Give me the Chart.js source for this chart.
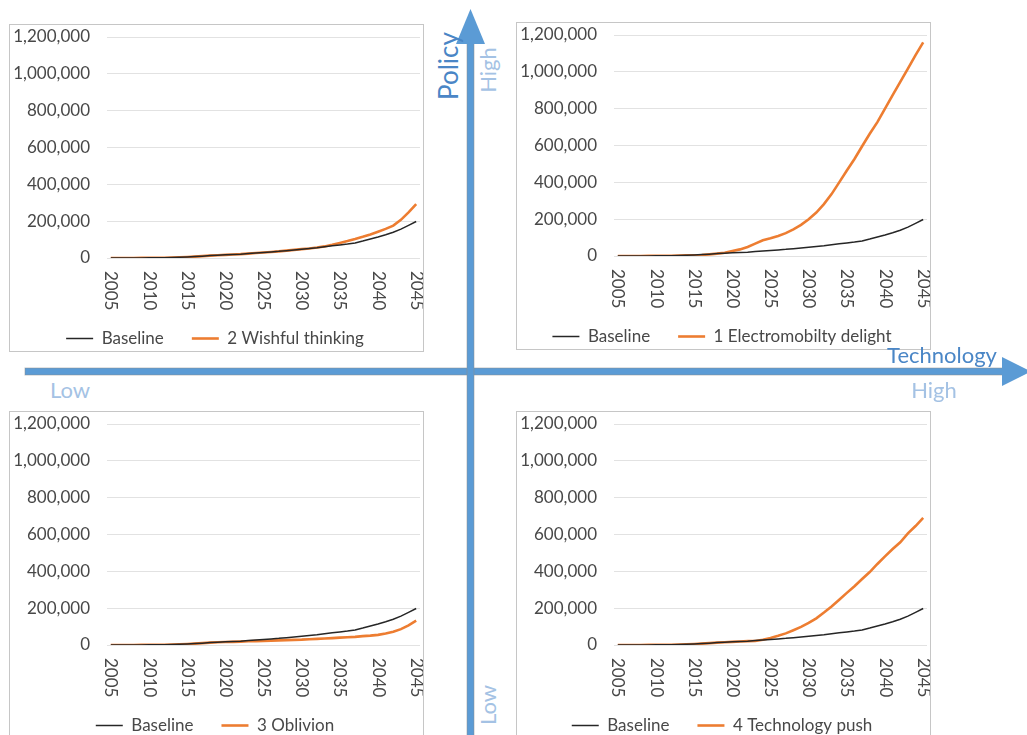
<!DOCTYPE html>
<html>
<head>
<meta charset="utf-8">
<script src="https://cdn.jsdelivr.net/npm/chart.js@4.4.0/dist/chart.umd.min.js"></script>
<style>
    body { margin: 0; width: 1027px; height: 735px; overflow: hidden; background: #fff; position: relative; font-family: Lato, sans-serif; }
    .box { position: absolute; width: 413px; height: 326px; border: 1px solid #c6c6c6; background: #fff; overflow: hidden; }
    .box .inner { position: relative; width: 413px; height: 332px; }
    .lbl { position: absolute; font-size: 22px; line-height: 1; white-space: nowrap; transform: translate(-50%, -50%); z-index: 2; }
    .dark { color: #4a86c6; }
    .light { color: #a4c2e4; }
    .rot { transform: translate(-50%, -50%) rotate(-90deg); }
    svg { position: absolute; left: 0; top: 0; }
</style>
</head>
<body>

<svg width="1027" height="735">
    <!-- horizontal axis: technology -->
    <rect x="25" y="368" width="980" height="7" fill="#5b9bd5" stroke="rgba(140,140,140,0.5)" stroke-width="1"/>
    <polygon points="1002,357 1031,371.5 1002,386" fill="#5b9bd5"/>
    <!-- vertical axis: policy -->
    <rect x="467" y="40" width="7" height="700" fill="#5b9bd5" stroke="rgba(140,140,140,0.5)" stroke-width="1"/>
    <polygon points="456,44 470.5,9 485,44" fill="#5b9bd5"/>
</svg>

<div class="box" style="left:9px; top:24px;"><div class="inner"><canvas id="chart2"></canvas></div></div>
<div class="box" style="left:516px; top:22px;"><div class="inner"><canvas id="chart1"></canvas></div></div>
<div class="box" style="left:9px; top:411px;"><div class="inner"><canvas id="chart3"></canvas></div></div>
<div class="box" style="left:516px; top:411px;"><div class="inner"><canvas id="chart4"></canvas></div></div>

<div class="lbl dark rot" style="left:448px; top:66px; font-size:26px;">Policy</div>
<div class="lbl light rot" style="left:488px; top:70px;">High</div>
<div class="lbl light rot" style="left:488px; top:705px;">Low</div>
<div class="lbl dark" style="left:942px; top:355px;">Technology</div>
<div class="lbl light" style="left:934px; top:390px;">High</div>
<div class="lbl light" style="left:70px; top:390px;">Low</div>

<script>
// years on the x axis, and the ones that get a label
const years = [2005, 2006, 2007, 2008, 2009, 2010, 2011, 2012, 2013, 2014,
    2015, 2016, 2017, 2018, 2019, 2020, 2021, 2022, 2023, 2024,
    2025, 2026, 2027, 2028, 2029, 2030, 2031, 2032, 2033, 2034,
    2035, 2036, 2037, 2038, 2039, 2040, 2041, 2042, 2043, 2044, 2045];
const tickYears = [2005, 2010, 2015, 2020, 2025, 2030, 2035, 2040, 2045];

// vehicles
const baseline = [100, 200, 300, 400, 500, 700, 1000, 1500, 2500, 4000,
    5500, 7500, 10000, 13000, 15000, 17000, 19000, 21000, 24000, 27000,
    30000, 33000, 36000, 40000, 44000, 48000, 52000, 56000, 61000, 66000,
    71000, 76000, 82000, 92000, 103000, 114000, 126000, 140000, 157000, 177000,
    198000];
const electromobility = [100, 200, 300, 400, 500, 700, 1000, 1500, 2500, 3500,
    4000, 5500, 9000, 13000, 18000, 27000, 36000, 49000, 67000, 85000,
    96000, 109000, 124000, 145000, 169000, 200000, 236000, 282000, 336000, 400000,
    464000, 527000, 596000, 664000, 727000, 800000, 873000, 945000, 1018000, 1091000,
    1160000];
const wishful = [100, 200, 300, 400, 500, 700, 1000, 1500, 2500, 4000,
    5500, 7500, 10000, 13000, 15000, 17000, 19000, 21000, 24000, 27000,
    30000, 33000, 36000, 40000, 44000, 48000, 52000, 57000, 63000, 72000,
    82000, 92000, 103000, 115000, 128000, 143000, 158000, 176000, 207000, 248000,
    293000];
const oblivion = [100, 200, 300, 400, 500, 700, 1000, 1500, 2500, 4000,
    5500, 7500, 10000, 13000, 15000, 16000, 17000, 18500, 20000, 21000,
    22000, 23500, 25000, 26500, 28000, 29000, 31000, 33000, 35000, 37500,
    40000, 42000, 44000, 48000, 51000, 55000, 62000, 72000, 86000, 107000,
    132000];
const techPush = [100, 200, 300, 400, 500, 700, 1000, 1500, 2500, 4000,
    5500, 7500, 10000, 13000, 15000, 17000, 19000, 21000, 22000, 28000,
    38000, 50000, 63000, 80000, 98000, 120000, 145000, 176000, 209000, 246000,
    283000, 319000, 358000, 396000, 440000, 481000, 521000, 558000, 606000, 646000,
    690000];

const font = 'Lato';
const textColor = '#484848';

// Excel draws the year labels turned clockwise, so we draw them ourselves
const yearLabels = {
    id: 'yearLabels',
    afterDraw(chart) {
        const xScale = chart.scales.x;
        const ctx = chart.ctx;
        ctx.save();
        ctx.font = '17px ' + font;
        ctx.fillStyle = textColor;
        ctx.textAlign = 'left';
        ctx.textBaseline = 'middle';
        years.forEach((yr, i) => {
            if (!tickYears.includes(yr)) return;
            ctx.save();
            ctx.translate(xScale.getPixelForValue(i), chart.chartArea.bottom + 13);
            ctx.rotate(Math.PI / 2);
            ctx.fillText(String(yr), 0, 0);
            ctx.restore();
        });
        ctx.restore();
    }
};

function makeChart(id, name, values) {
    new Chart(document.getElementById(id), {
        type: 'line',
        data: {
            labels: years,
            datasets: [{
                label: 'Baseline',
                data: baseline,
                borderColor: '#262626',
                backgroundColor: '#262626',
                borderWidth: 1.5,
                pointRadius: 0,
                tension: 0
            }, {
                label: name,
                data: values,
                borderColor: '#ed7d31',
                backgroundColor: '#ed7d31',
                borderWidth: 2.6,
                pointRadius: 0,
                tension: 0
            }]
        },
        options: {
            responsive: true,
            maintainAspectRatio: false,
            animation: false,
            layout: { padding: { top: 12, right: 3, left: 0, bottom: 0 } },
            plugins: {
                legend: {
                    position: 'bottom',
                    labels: {
                        usePointStyle: true,
                        pointStyle: 'line',
                        pointStyleWidth: 27,
                        padding: 28,
                        color: textColor,
                        font: { family: font, size: 17 }
                    }
                },
                tooltip: { enabled: false }
            },
            scales: {
                x: {
                    offset: true,
                    grid: { display: false },
                    border: { display: false },
                    ticks: { display: false },
                    afterFit(scale) { scale.height = 44; }
                },
                y: {
                    min: 0,
                    max: 1200000,
                    ticks: {
                        stepSize: 200000,
                        padding: 17,
                        color: textColor,
                        font: { family: font, size: 17 },
                        callback: v => v.toLocaleString('en-US')
                    },
                    grid: { color: '#e2e2e2', drawTicks: false },
                    border: { display: false },
                    afterFit(scale) {
                        scale.width = 97;
                        scale.paddingTop = 0;
                        scale.paddingBottom = 0;
                    }
                }
            }
        },
        plugins: [yearLabels]
    });
}

makeChart('chart2', '2 Wishful thinking', wishful);
makeChart('chart1', '1 Electromobilty delight', electromobility);
makeChart('chart3', '3 Oblivion', oblivion);
makeChart('chart4', '4 Technology push', techPush);
</script>
</body>
</html>
